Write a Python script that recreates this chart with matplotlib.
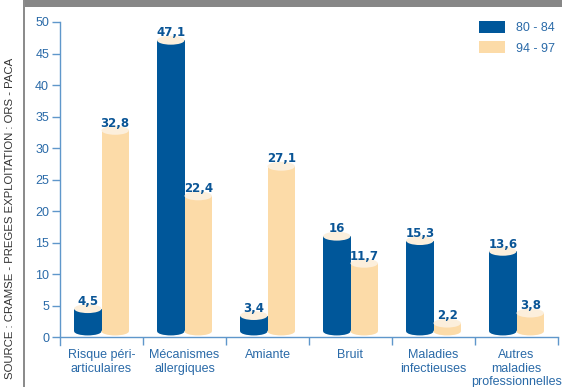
import matplotlib.pyplot as plt
from matplotlib.patches import Ellipse, Rectangle

plt.rcParams['font.family'] = ['Liberation Sans', 'DejaVu Sans']

# Occupational disease categories and rates for the two periods
categories = ['Risque péri-\narticulaires', 'Mécanismes\nallergiques', 'Amiante',
              'Bruit', 'Maladies\ninfectieuses', 'Autres\nmaladies\nprofessionnelles']
periods = ['80 - 84', '94 - 97']
vals_80_84 = [4.5, 47.1, 3.4, 16, 15.3, 13.6]
vals_94_97 = [32.8, 22.4, 27.1, 11.7, 2.2, 3.8]
labels_80_84 = ['4,5', '47,1', '3,4', '16', '15,3', '13,6']
labels_94_97 = ['32,8', '22,4', '27,1', '11,7', '2,2', '3,8']

BLUE = '#00579a'
BEIGE = '#fcdba8'
CAP = '#fcefdc'
AXIS = '#5f97cb'
TEXT = '#2a6aa8'
LABEL = '#0a5596'

fig = plt.figure(figsize=(5.62, 3.87), dpi=100)
ax = fig.add_axes([60 / 562, 1 - 345.2 / 387, 498 / 562, (345.2 - 22) / 387])

w = 0.33
base = 0.9      # centre of the bottom ellipse
cap_h = 1.4     # ellipse height in data units

handles = []
for offset, vals, labels, color in [(-w / 2, vals_80_84, labels_80_84, BLUE),
                                    (w / 2, vals_94_97, labels_94_97, BEIGE)]:
    xs = [i + offset for i in range(len(categories))]
    bars = ax.bar(xs, [v - base for v in vals], bottom=base, width=w, color=color,
                  linewidth=0, zorder=2)
    handles.append(bars)
    for x, v, lab in zip(xs, vals, labels):
        ax.add_patch(Ellipse((x, base), w, 1.3, color=color, lw=0, zorder=2))
        ax.add_patch(Ellipse((x, v), w, cap_h, color=CAP, lw=0, zorder=3))
        ax.text(x, v + 0.6, lab, ha='center', va='baseline', color=LABEL,
                fontsize=8.5, fontweight='bold', family='DejaVu Sans', zorder=4)

ax.set_xlim(-0.5, 5.5)
ax.set_ylim(-1.3, 50)

for side in ['top', 'right']:
    ax.spines[side].set_visible(False)
ax.spines['bottom'].set_position(('data', 0))
for side in ['left', 'bottom']:
    ax.spines[side].set_color(AXIS)
    ax.spines[side].set_linewidth(1.0)

ax.set_yticks(range(0, 51, 5))
ax.tick_params(axis='y', colors=AXIS, labelcolor=TEXT, labelsize=9,
               length=5.8, width=1.0, pad=2)
ax.set_xticks(range(len(categories)))
ax.set_xticklabels(categories, linespacing=1.2)
ax.set_xticks([i + 0.5 for i in range(len(categories))], minor=True)
ax.tick_params(axis='x', which='major', length=0, labelcolor=TEXT,
               labelsize=9, pad=8.5)
ax.tick_params(axis='x', which='minor', length=5.8, width=1.0, color=AXIS)

ax.legend(handles, periods, loc='upper left', frameon=False, fontsize=9,
          labelcolor=TEXT, handlelength=2.08, handleheight=1.12,
          handletextpad=0.88, labelspacing=0.56, borderpad=0,
          borderaxespad=0, bbox_to_anchor=(479 / 562, 1 - 21 / 387),
          bbox_transform=fig.transFigure)

# frame decorations: grey band on top and grey rule on the left
fig.patches.append(Rectangle((23 / 562, 1 - 6.5 / 387), 1, 6.5 / 387,
                             transform=fig.transFigure, color='#878787', lw=0))
fig.patches.append(Rectangle((22.5 / 562, 0), 2.5 / 562, 1,
                             transform=fig.transFigure, color='#8c8c8c', lw=0))

fig.text(10 / 562, 1 - 58 / 387,
         'SOURCE : CRAMSE - PREGES EXPLOITATION : ORS - PACA',
         rotation=90, ha='center', va='top', fontsize=8.2, color='#333333')

fig.savefig('out.png', dpi=100)
